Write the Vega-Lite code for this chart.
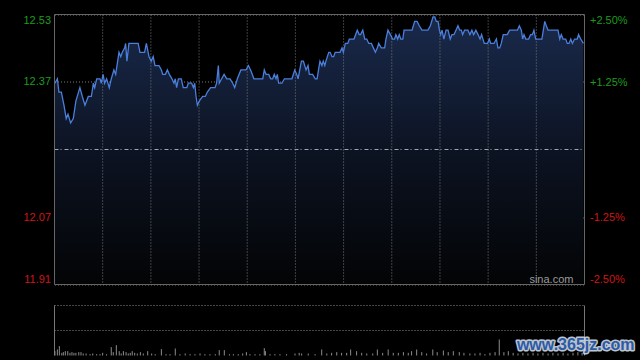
{
  "$schema": "https://vega.github.io/schema/vega-lite/v6.json",
  "width": 530,
  "height": 342,
  "autosize": "none",
  "padding": {"left": 54.5, "top": 14.5, "right": 55.5, "bottom": 3.5},
  "background": "#000000",
  "config": {"view": {"stroke": null}, "font": "Liberation Sans"},
  "datasets": {
    "price": [
      {"t":0.2,"p":12.37},{"t":1.3,"p":12.38},{"t":2.0,"p":12.35},{"t":3.1,"p":12.35},{"t":4.3,"p":12.32},{"t":5.3,"p":12.29},{"t":6.1,"p":12.30},{"t":7.3,"p":12.28},{"t":8.5,"p":12.29},{"t":9.7,"p":12.33},
      {"t":11.5,"p":12.36},{"t":12.6,"p":12.34},{"t":13.8,"p":12.32},{"t":15.3,"p":12.34},{"t":16.7,"p":12.34},{"t":17.6,"p":12.37},{"t":18.2,"p":12.36},{"t":19.1,"p":12.38},{"t":20.6,"p":12.38},{"t":21.2,"p":12.37},
      {"t":22.0,"p":12.39},{"t":22.7,"p":12.37},{"t":23.6,"p":12.38},{"t":24.8,"p":12.36},{"t":25.7,"p":12.38},{"t":26.9,"p":12.40},{"t":27.7,"p":12.39},{"t":29.2,"p":12.44},{"t":30.0,"p":12.43},{"t":30.7,"p":12.44},
      {"t":31.8,"p":12.45},{"t":32.2,"p":12.46},{"t":32.8,"p":12.42},{"t":33.7,"p":12.46},{"t":37.9,"p":12.46},{"t":38.7,"p":12.44},{"t":40.8,"p":12.44},{"t":41.6,"p":12.46},{"t":42.8,"p":12.43},{"t":43.8,"p":12.42},
      {"t":44.7,"p":12.43},{"t":45.5,"p":12.41},{"t":47.3,"p":12.41},{"t":48.4,"p":12.40},{"t":49.0,"p":12.39},{"t":50.2,"p":12.39},{"t":51.1,"p":12.40},{"t":52.0,"p":12.39},{"t":53.2,"p":12.38},{"t":54.1,"p":12.37},
      {"t":54.7,"p":12.38},{"t":55.3,"p":12.36},{"t":56.1,"p":12.38},{"t":57.4,"p":12.38},{"t":58.3,"p":12.36},{"t":59.9,"p":12.36},{"t":60.6,"p":12.37},{"t":62.1,"p":12.37},{"t":62.9,"p":12.36},{"t":63.5,"p":12.37},
      {"t":64.1,"p":12.34},{"t":64.7,"p":12.32},{"t":65.6,"p":12.33},{"t":67.1,"p":12.34},{"t":68.3,"p":12.34},{"t":69.2,"p":12.35},{"t":70.7,"p":12.36},{"t":72.7,"p":12.36},{"t":73.4,"p":12.37},{"t":74.2,"p":12.41},
      {"t":74.6,"p":12.37},{"t":75.7,"p":12.38},{"t":76.8,"p":12.39},{"t":78.0,"p":12.38},{"t":79.5,"p":12.38},{"t":80.7,"p":12.37},{"t":81.6,"p":12.36},{"t":82.8,"p":12.38},{"t":84.4,"p":12.40},{"t":86.7,"p":12.40},
      {"t":87.8,"p":12.41},{"t":88.8,"p":12.40},{"t":90.3,"p":12.38},{"t":94.3,"p":12.38},{"t":95.0,"p":12.40},{"t":95.8,"p":12.39},{"t":97.0,"p":12.39},{"t":97.9,"p":12.38},{"t":98.8,"p":12.38},{"t":99.5,"p":12.39},
      {"t":100.3,"p":12.38},{"t":100.9,"p":12.39},{"t":101.5,"p":12.37},{"t":103.0,"p":12.37},{"t":104.1,"p":12.38},{"t":107.5,"p":12.38},{"t":108.8,"p":12.40},{"t":109.7,"p":12.39},{"t":110.3,"p":12.38},{"t":111.8,"p":12.42},
      {"t":112.7,"p":12.42},{"t":113.9,"p":12.40},{"t":114.8,"p":12.41},{"t":115.4,"p":12.39},{"t":116.9,"p":12.39},{"t":118.1,"p":12.38},{"t":118.9,"p":12.38},{"t":120.2,"p":12.42},{"t":121.1,"p":12.41},{"t":121.7,"p":12.42},
      {"t":122.4,"p":12.41},{"t":122.9,"p":12.42},{"t":124.2,"p":12.44},{"t":124.8,"p":12.44},{"t":125.7,"p":12.43},{"t":126.4,"p":12.43},{"t":127.1,"p":12.44},{"t":129.3,"p":12.44},{"t":130.2,"p":12.45},{"t":130.8,"p":12.44},
      {"t":131.7,"p":12.46},{"t":132.8,"p":12.46},{"t":133.5,"p":12.47},{"t":135.6,"p":12.47},{"t":137.1,"p":12.49},{"t":138.0,"p":12.48},{"t":138.6,"p":12.48},{"t":139.6,"p":12.49},{"t":140.5,"p":12.47},{"t":141.4,"p":12.47},
      {"t":142.3,"p":12.46},{"t":143.5,"p":12.46},{"t":144.4,"p":12.45},{"t":145.3,"p":12.44},{"t":146.2,"p":12.45},{"t":146.8,"p":12.46},{"t":148.0,"p":12.45},{"t":149.5,"p":12.45},{"t":150.1,"p":12.47},{"t":151.0,"p":12.49},
      {"t":152.1,"p":12.48},{"t":153.1,"p":12.47},{"t":154.0,"p":12.47},{"t":154.6,"p":12.48},{"t":155.4,"p":12.47},{"t":156.1,"p":12.48},{"t":156.8,"p":12.47},{"t":157.7,"p":12.47},{"t":158.3,"p":12.49},{"t":161.9,"p":12.49},
      {"t":163.1,"p":12.51},{"t":164.2,"p":12.51},{"t":165.2,"p":12.50},{"t":166.4,"p":12.49},{"t":169.1,"p":12.49},{"t":170.2,"p":12.50},{"t":171.4,"p":12.52},{"t":172.2,"p":12.52},{"t":172.9,"p":12.51},{"t":173.7,"p":12.51},
      {"t":174.3,"p":12.49},{"t":174.9,"p":12.48},{"t":175.5,"p":12.49},{"t":176.3,"p":12.47},{"t":177.3,"p":12.49},{"t":178.2,"p":12.49},{"t":179.2,"p":12.47},{"t":180.0,"p":12.48},{"t":180.9,"p":12.48},{"t":181.8,"p":12.49},
      {"t":182.7,"p":12.50},{"t":183.5,"p":12.49},{"t":184.2,"p":12.49},{"t":184.8,"p":12.48},{"t":185.7,"p":12.49},{"t":187.2,"p":12.49},{"t":188.1,"p":12.48},{"t":189.0,"p":12.49},{"t":189.8,"p":12.48},{"t":190.8,"p":12.49},
      {"t":191.8,"p":12.48},{"t":192.7,"p":12.47},{"t":193.4,"p":12.48},{"t":194.6,"p":12.46},{"t":196.1,"p":12.46},{"t":196.9,"p":12.47},{"t":197.5,"p":12.46},{"t":199.0,"p":12.46},{"t":200.1,"p":12.47},{"t":200.8,"p":12.45},
      {"t":201.6,"p":12.45},{"t":202.3,"p":12.46},{"t":203.2,"p":12.48},{"t":205.0,"p":12.48},{"t":206.1,"p":12.49},{"t":209.6,"p":12.49},{"t":210.5,"p":12.50},{"t":211.4,"p":12.49},{"t":212.0,"p":12.47},{"t":212.6,"p":12.48},
      {"t":213.4,"p":12.47},{"t":214.7,"p":12.47},{"t":215.6,"p":12.48},{"t":216.4,"p":12.48},{"t":217.1,"p":12.49},{"t":217.9,"p":12.47},{"t":220.7,"p":12.47},{"t":222.0,"p":12.51},{"t":222.7,"p":12.50},{"t":223.5,"p":12.49},
      {"t":228.0,"p":12.49},{"t":228.8,"p":12.47},{"t":229.5,"p":12.48},{"t":230.3,"p":12.47},{"t":231.5,"p":12.47},{"t":232.2,"p":12.46},{"t":233.0,"p":12.46},{"t":233.8,"p":12.47},{"t":234.5,"p":12.46},{"t":235.5,"p":12.47},
      {"t":236.7,"p":12.47},{"t":237.3,"p":12.48},{"t":238.3,"p":12.47},{"t":239.5,"p":12.46}
    ],
    "vol": [
      {"t":0.2,"v":87},{"t":1.3,"v":120},{"t":2.2,"v":187},{"t":3.3,"v":53},{"t":4.0,"v":67},{"t":4.9,"v":87},{"t":6.0,"v":87},{"t":7.0,"v":53},{"t":7.9,"v":67},{"t":8.8,"v":53},
      {"t":9.7,"v":53},{"t":11.0,"v":67},{"t":12.0,"v":67},{"t":13.0,"v":40},{"t":14.3,"v":40},{"t":16.1,"v":27},{"t":17.3,"v":40},{"t":19.1,"v":27},{"t":20.6,"v":27},{"t":21.8,"v":53},
      {"t":23.6,"v":27},{"t":25.7,"v":167},{"t":26.6,"v":67},{"t":28.0,"v":207},{"t":29.3,"v":87},{"t":30.2,"v":40},{"t":31.2,"v":87},{"t":32.4,"v":67},{"t":33.4,"v":40},{"t":34.3,"v":53},
      {"t":35.2,"v":87},{"t":36.3,"v":53},{"t":37.5,"v":40},{"t":38.9,"v":67},{"t":40.2,"v":40},{"t":42.2,"v":87},{"t":44.0,"v":40},{"t":45.6,"v":27},{"t":48.4,"v":127},{"t":50.5,"v":27},
      {"t":52.3,"v":27},{"t":54.7,"v":140},{"t":56.8,"v":27},{"t":59.2,"v":40},{"t":61.4,"v":27},{"t":63.6,"v":27},{"t":65.9,"v":40},{"t":68.1,"v":27},{"t":70.4,"v":27},{"t":72.8,"v":27},
      {"t":74.6,"v":107},{"t":76.9,"v":107},{"t":79.2,"v":27},{"t":81.0,"v":27},{"t":83.2,"v":27},{"t":85.2,"v":40},{"t":86.9,"v":67},{"t":88.5,"v":27},{"t":90.8,"v":27},{"t":93.0,"v":27},
      {"t":95.0,"v":147},{"t":95.5,"v":87},{"t":97.6,"v":27},{"t":99.8,"v":27},{"t":102.1,"v":27},{"t":105.1,"v":27},{"t":108.9,"v":40},{"t":110.8,"v":53},{"t":111.9,"v":40},{"t":114.9,"v":40},
      {"t":118.0,"v":27},{"t":121.0,"v":120},{"t":123.3,"v":40},{"t":125.5,"v":53},{"t":127.8,"v":67},{"t":130.0,"v":53},{"t":132.3,"v":53},{"t":134.1,"v":120},{"t":136.8,"v":87},{"t":139.1,"v":53},
      {"t":141.4,"v":40},{"t":144.1,"v":40},{"t":146.2,"v":120},{"t":148.6,"v":53},{"t":151.1,"v":120},{"t":153.4,"v":53},{"t":155.7,"v":53},{"t":158.0,"v":67},{"t":160.2,"v":53},{"t":161.7,"v":87},
      {"t":164.0,"v":120},{"t":166.3,"v":67},{"t":168.5,"v":40},{"t":171.3,"v":120},{"t":173.3,"v":67},{"t":176.1,"v":100},{"t":178.3,"v":67},{"t":180.6,"v":87},{"t":183.3,"v":67},{"t":185.4,"v":53},
      {"t":188.1,"v":40},{"t":190.4,"v":40},{"t":192.7,"v":53},{"t":194.9,"v":27},{"t":197.2,"v":53},{"t":199.5,"v":67},{"t":201.4,"v":320},{"t":203.5,"v":67},{"t":205.5,"v":87},{"t":207.7,"v":53},
      {"t":209.9,"v":40},{"t":212.1,"v":53},{"t":214.4,"v":40},{"t":216.7,"v":53},{"t":218.9,"v":40},{"t":221.2,"v":53},{"t":223.5,"v":40},{"t":225.7,"v":53},{"t":228.0,"v":40},{"t":230.3,"v":53},
      {"t":232.5,"v":40},{"t":234.8,"v":53},{"t":237.0,"v":67},{"t":238.9,"v":53}
    ],
    "vgrid": [{"t":21.82},{"t":43.64},{"t":65.45},{"t":87.27},{"t":109.09},{"t":130.91},{"t":152.73},{"t":174.55},{"t":196.36},{"t":218.18}]
  },
  "layer": [
    {
      "layer": [
        {
          "data": {"name": "price"},
          "mark": {
            "type": "area",
            "interpolate": "linear",
            "fill": {
              "x1": 0, "y1": 0, "x2": 0, "y2": 1, "gradient": "linear",
              "stops": [
                {"offset": 0, "color": "#1a2a4c"},
                {"offset": 0.5, "color": "#0c1322"},
                {"offset": 1, "color": "#030405"}
              ]
            }
          },
          "encoding": {
            "x": {"field": "t", "type": "quantitative", "scale": {"domain": [0, 240], "nice": false, "zero": false}, "axis": null},
            "y": {
              "field": "p", "type": "quantitative",
              "scale": {"domain": [11.9145, 12.5255], "range": [270, 0], "nice": false, "zero": false},
              "axis": {
                "orient": "left", "title": null, "values": [11.9145, 12.0672, 12.3728, 12.5255], "format": ".2f",
                "domain": false, "ticks": false, "labelPadding": 4, "labelFlush": true, "labelFontSize": 11,
                "labelFont": "Liberation Sans",
                "labelColor": {"condition": {"test": "datum.value > 12.22", "value": "#1e9b1e"}, "value": "#d01515"},
                "grid": true, "gridColor": "#7a7a7a", "gridDash": [1, 2], "gridWidth": 1
              }
            },
            "y2": {"datum": 11.9145}
          }
        },
        {
          "data": {"name": "vgrid"},
          "mark": {"type": "rule", "color": "#7a7a7a", "strokeDash": [1, 2], "strokeWidth": 1},
          "encoding": {
            "x": {"field": "t", "type": "quantitative", "scale": {"domain": [0, 240], "nice": false, "zero": false}, "axis": null},
            "y": {"datum": 12.5255, "type": "quantitative", "axis": null},
            "y2": {"datum": 11.9145}
          }
        },
        {
          "data": {"values": [{"p": 12.22}]},
          "mark": {"type": "rule", "color": "#a0a6ae", "strokeDash": [4, 2, 1, 3], "strokeWidth": 1},
          "encoding": {
            "y": {"field": "p", "type": "quantitative", "axis": null},
            "x": {"datum": 0, "type": "quantitative", "scale": {"domain": [0, 240], "nice": false, "zero": false}, "axis": null},
            "x2": {"datum": 240}
          }
        },
        {
          "data": {"name": "price"},
          "mark": {"type": "line", "color": "#4a7fdc", "strokeWidth": 1.3, "interpolate": "linear"},
          "encoding": {
            "x": {"field": "t", "type": "quantitative", "scale": {"domain": [0, 240], "nice": false, "zero": false}, "axis": null},
            "y": {"field": "p", "type": "quantitative", "axis": null}
          }
        },
        {
          "data": {"values": [{"label": "sina.com", "t": 235, "p": 11.918}]},
          "mark": {"type": "text", "align": "right", "baseline": "alphabetic", "fontSize": 11, "font": "Liberation Sans", "color": "#9a9a9a"},
          "encoding": {
            "x": {"field": "t", "type": "quantitative", "scale": {"domain": [0, 240], "nice": false, "zero": false}, "axis": null},
            "y": {"field": "p", "type": "quantitative", "axis": null},
            "text": {"field": "label"}
          }
        },
        {
          "data": {"values": [{"a": 1}]},
          "mark": {"type": "rect", "fillOpacity": 0, "stroke": "#666666", "strokeWidth": 1},
          "encoding": {
            "x": {"datum": 0, "type": "quantitative", "scale": {"domain": [0, 240], "nice": false, "zero": false}, "axis": null},
            "x2": {"datum": 240},
            "y": {"datum": 12.5255, "type": "quantitative", "axis": null},
            "y2": {"datum": 11.9145}
          }
        }
      ],
      "resolve": {"axis": {"y": "independent"}}
    },
    {
      "data": {"values": [{"pct": -2.5}, {"pct": 2.5}]},
      "mark": {"type": "point", "opacity": 0},
      "encoding": {
        "y": {
          "field": "pct", "type": "quantitative",
          "scale": {"domain": [-2.5, 2.5], "range": [270, 0], "nice": false, "zero": false},
          "axis": {
            "orient": "right", "title": null, "values": [-2.5, -1.25, 1.25, 2.5],
            "labelExpr": "(datum.value > 0 ? '+' : '-') + format(abs(datum.value), '.2f') + '%'",
            "domain": false, "ticks": false, "grid": false, "labelPadding": 5, "labelFlush": true, "labelFontSize": 11,
            "labelFont": "Liberation Sans",
            "labelColor": {"condition": {"test": "datum.value > 0", "value": "#1e9b1e"}, "value": "#d01515"}
          }
        }
      }
    },
    {
      "layer": [
        {
          "data": {"values": [{"v": 500}, {"v": 1000}]},
          "mark": {"type": "rule", "color": "#8a8a8a", "strokeDash": [1, 2], "strokeWidth": 1},
          "encoding": {
            "y": {"field": "v", "type": "quantitative", "scale": {"domain": [0, 1000], "range": [341, 291], "nice": false, "zero": true}, "axis": null},
            "x": {"datum": 0, "type": "quantitative", "scale": {"domain": [0, 240], "nice": false, "zero": false}, "axis": null},
            "x2": {"datum": 240}
          }
        },
        {
          "data": {"values": [{"t": 0}, {"t": 240}]},
          "mark": {"type": "rule", "color": "#777777", "strokeWidth": 1},
          "encoding": {
            "x": {"field": "t", "type": "quantitative", "scale": {"domain": [0, 240], "nice": false, "zero": false}, "axis": null},
            "y": {"datum": 1000, "type": "quantitative", "axis": null},
            "y2": {"datum": 0}
          }
        },
        {
          "data": {"name": "vol"},
          "mark": {"type": "rule", "color": "#8c8c8c", "strokeWidth": 1},
          "encoding": {
            "x": {"field": "t", "type": "quantitative", "scale": {"domain": [0, 240], "nice": false, "zero": false}, "axis": null},
            "y": {"field": "v", "type": "quantitative", "axis": null},
            "y2": {"datum": 0}
          }
        },
        {
          "data": {"values": [{"label": "www.365jz.com", "t": 209.4, "v": 206}]},
          "mark": {"type": "text", "align": "left", "baseline": "middle", "fontSize": 16, "fontWeight": "bold", "font": "Liberation Sans", "fill": "#dfe7f3", "stroke": "#dfe7f3", "strokeWidth": 3, "strokeJoin": "round", "opacity": 0.85},
          "encoding": {
            "x": {"field": "t", "type": "quantitative", "scale": {"domain": [0, 240], "nice": false, "zero": false}, "axis": null},
            "y": {"field": "v", "type": "quantitative", "axis": null},
            "text": {"field": "label"}
          }
        },
        {
          "data": {"values": [{"label": "www.365jz.com", "t": 209.4, "v": 206}]},
          "mark": {"type": "text", "align": "left", "baseline": "middle", "fontSize": 16, "fontWeight": "bold", "font": "Liberation Sans", "fill": "#2c5aa6"},
          "encoding": {
            "x": {"field": "t", "type": "quantitative", "scale": {"domain": [0, 240], "nice": false, "zero": false}, "axis": null},
            "y": {"field": "v", "type": "quantitative", "axis": null},
            "text": {"field": "label"}
          }
        }
      ],
      "resolve": {"axis": {"y": "independent"}}
    }
  ],
  "resolve": {"scale": {"y": "independent"}, "axis": {"y": "independent"}}
}
